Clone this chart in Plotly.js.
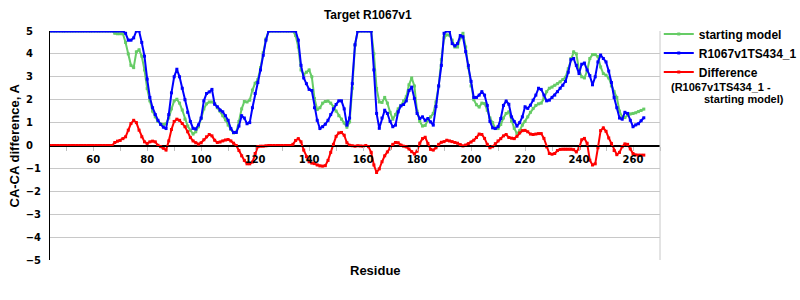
<!DOCTYPE html>
<html><head><meta charset="utf-8">
<script src="https://cdn.plot.ly/plotly-3.0.1.min.js"></script>
<style>html,body{margin:0;padding:0;background:#fff}#chart{width:800px;height:300px}</style>
</head><body><div id="chart"></div>
<script>
// residue numbering of the first value in each series
const firstResidue = 44;

// series: starting model (green)
const startingModel = [
  5,5,5,5,5,5,
  5,5,5,5,5,5,5,5,5,5,
  5,5,5,5,5,5,5,5,4.9,4.88,
  4.88,4.88,4.5,4.0,3.5,3.4,4.09,4.18,3.9,3.3,
  2.49,1.95,1.5,1.25,1.05,0.94,0.92,0.95,1.2,1.6,
  1.95,2.02,1.85,1.55,1.15,0.85,0.67,0.5,0.6,0.82,
  1.18,1.6,1.82,1.9,1.9,1.83,1.65,1.5,1.3,1.12,
  0.89,0.7,0.55,0.58,1.05,1.6,1.92,1.9,1.98,2.42,
  2.72,2.88,3.4,4.05,4.65,5,5,5,5,5,
  5,5,5,5,5,4.8,4.3,3.3,3.1,3.2,
  3.3,3.0,2.05,1.57,1.65,1.85,1.92,1.94,1.85,1.7,
  1.5,1.3,1.15,0.98,0.8,1.03,2.5,4.38,5,5,
  5,5,5,5,4.0,2.49,1.9,1.88,2.1,1.85,
  1.45,1.15,1.35,1.6,1.75,1.95,2.13,2.65,2.95,2.6,
  1.5,1.05,0.85,0.88,1.1,1.25,1.4,1.9,2.6,3.75,
  4.7,4.83,4.82,4.6,4.3,4.3,4.7,4.9,4.3,3.4,
  2.6,2.0,1.78,1.68,1.85,1.83,1.54,1.2,1.0,0.75,
  0.74,0.92,1.2,1.4,1.47,1.05,0.75,0.52,0.65,0.89,
  1.05,1.25,1.45,1.62,1.75,1.82,1.85,2.05,2.35,2.5,
  2.55,2.63,2.7,2.78,2.88,2.98,3.35,3.8,4.09,4.0,
  3.3,3.0,2.95,3.25,3.8,3.97,3.97,3.88,3.43,3.14,
  3.07,2.95,2.6,2.35,2.1,1.5,1.25,1.22,1.33,1.38,
  1.4,1.43,1.48,1.53,1.59
];

// series: R1067v1TS434_1 (blue)
const modelValues = [
  5,5,5,5,5,5,
  5,5,5,5,5,5,5,5,5,5,
  5,5,5,5,5,5,5,5,5,5,
  5,5,4.9,4.6,4.6,4.7,5,5,4.5,3.9,
  2.9,2.1,1.65,1.35,1.1,0.92,0.8,0.74,1.35,2.3,
  3.0,3.33,3.0,2.5,2.0,1.45,1.05,0.75,0.72,0.9,
  1.2,1.95,2.27,2.34,2.45,1.8,1.69,1.54,1.47,1.3,
  1.1,0.74,0.57,0.57,0.85,1.3,1.2,0.95,1.0,1.65,
  2.27,2.75,3.3,3.94,4.6,5,5,5,5,5,
  5,5,5,5,5,5,4.6,3.5,2.95,2.7,
  2.45,2.4,1.65,1.1,0.74,0.82,0.93,1.1,1.35,1.6,
  1.79,1.95,1.95,1.6,0.89,1.2,2.7,4.4,5,5,
  5,5,5,5,3.3,1.4,0.75,1.2,1.54,1.4,
  1.05,0.82,0.89,1.47,1.73,1.79,1.95,2.4,2.55,2.05,
  1.4,1.18,1.25,1.1,1.18,1.03,0.89,1.7,2.6,3.5,
  4.9,5,5,4.45,4.35,4.45,4.8,4.75,4.1,3.5,
  2.8,2.1,2.1,2.2,2.35,2.2,1.75,1.05,0.77,0.74,
  0.82,1.18,1.75,1.94,1.8,1.25,1.05,0.85,1.0,1.25,
  1.69,1.62,1.76,1.98,2.2,2.5,2.45,2.2,1.95,1.98,
  2.1,2.2,2.35,2.5,2.63,2.8,3.2,3.75,3.8,3.5,
  3.14,3.55,3.6,3.3,3.05,2.65,3.0,3.65,3.95,3.8,
  3.65,3.25,2.75,2.1,1.65,1.2,1.15,1.45,1.4,1.1,
  0.82,0.9,0.95,1.08,1.21
];

// series: Difference (red)
const differenceValues = [
  0,0,0,0,0,0,
  0,0,0,0,0,0,0,0,0,0,
  0,0,0,0,0,0,0,0,0.13,0.19,
  0.22,0.3,0.38,0.67,0.96,1.1,1.0,0.67,0.38,0.16,
  0.09,0.16,0.19,0.16,0.01,-0.05,-0.12,-0.2,0.2,0.7,
  1.05,1.15,1.1,0.96,0.82,0.6,0.35,0.2,0.12,0.06,
  0.12,0.25,0.38,0.48,0.42,0.23,0.13,0.15,0.2,0.24,
  0.26,0.2,0.1,0.0,-0.22,-0.45,-0.65,-0.8,-0.8,-0.72,
  -0.35,-0.05,-0.03,-0.03,-0.01,0,0,0,0,0,
  0,0,0,0,0.05,0.22,0.3,0.16,-0.2,-0.49,
  -0.71,-0.77,-0.79,-0.85,-0.89,-0.9,-0.88,-0.65,-0.3,0.05,
  0.4,0.55,0.57,0.45,0.12,0.01,-0.01,-0.03,-0.01,-0.02,
  -0.03,0.0,-0.05,-0.3,-0.85,-1.18,-1.02,-0.71,-0.45,-0.28,
  -0.12,0.05,0.13,0.12,0.02,-0.03,-0.06,-0.15,-0.27,-0.37,
  -0.25,0.1,0.3,0.36,0.09,-0.17,-0.2,-0.1,0.05,0.14,
  0.17,0.23,0.2,0.17,0.13,0.1,0.04,-0.02,0.02,0.08,
  0.15,0.23,0.35,0.5,0.48,0.31,0.05,-0.1,-0.05,0.08,
  0.2,0.3,0.42,0.48,0.35,0.32,0.3,0.4,0.55,0.65,
  0.66,0.6,0.5,0.48,0.5,0.52,0.52,0.31,-0.06,-0.35,
  -0.38,-0.35,-0.22,-0.17,-0.16,-0.16,-0.16,-0.16,-0.18,-0.28,
  -0.13,0.25,0.31,0.1,-0.64,-0.85,-0.8,-0.1,0.65,0.77,
  0.62,0.33,0.09,-0.22,-0.4,-0.3,-0.05,0.07,0.05,-0.15,
  -0.35,-0.41,-0.42,-0.42,-0.42
];

const seriesNames = ['starting model', 'R1067v1TS434_1', 'Difference'];
const seriesColors = ['#66cc66', '#0000ff', '#ff0000'];
const yTickVals = [5,4,3,2,1,0,-1,-2,-3,-4,-5];
const yTickText = ['5','4','3','2','1','0','\u22121','\u22122','\u22123','\u22124','\u22125'];
const xTickVals = [60,80,100,120,140,160,180,200,220,240,260];
const xTickText = ['60','80','100','120','140','160','180','200','220','240','260'];

const residues = startingModel.map((_, i) => firstResidue + i);
const allSeries = [startingModel, modelValues, differenceValues];

const traces = allSeries.map((vals, k) => ({
  x: residues, y: vals, type: 'scatter', mode: 'lines+markers',
  name: seriesNames[k], legendgroup: 'g' + k,
  line: {color: seriesColors[k], width: 2},
  marker: {color: seriesColors[k], size: 3, symbol: 'square'}
}));

// positive labels padded so that all labels line up on the left, as in the reference
const pad = '\u2007\u200A';
const yTickLabels = yTickText.map(t => '<b>' + t + (t.charAt(0) === '\u2212' ? '' : pad) + '</b>');
const xTickLabels = xTickText.map(t => '<b>' + t + '</b>');

const boldArial = {family: 'Liberation Sans, Arial, sans-serif', weight: 'bold', color: '#000'};
const tickFont = {family: 'DejaVu Sans, Verdana, sans-serif', color: '#000', size: 10};

const layout = {
  width: 800, height: 300,
  margin: {l: 50, r: 140, t: 31, b: 40, autoexpand: false},
  paper_bgcolor: '#fff', plot_bgcolor: '#fff',
  title: {text: '<b>Target R1067v1</b>', font: Object.assign({size: 12}, boldArial),
          x: 0.521, xref: 'paper', xanchor: 'center', y: 0.95, yref: 'container', yanchor: 'middle'},
  showlegend: true,
  legend: {x: 0.998, xanchor: 'left', y: 1.05, yanchor: 'top', traceorder: 'grouped',
           tracegroupgap: 0, font: Object.assign({size: 12}, boldArial), bgcolor: 'rgba(0,0,0,0)'},
  xaxis: {
    range: [44, 270], anchor: 'free', position: 0.5,
    showgrid: false, zeroline: false, showline: true, linecolor: '#000', linewidth: 1,
    tickmode: 'array', tickvals: xTickVals, ticktext: xTickLabels,
    ticks: 'outside', ticklen: 4, tickcolor: '#c0c0c0', tickwidth: 1,
    minor: {dtick: 10, tick0: 0, ticks: 'outside', ticklen: 4, tickcolor: '#c0c0c0', showgrid: false},
    tickfont: tickFont
  },
  yaxis: {
    range: [-5, 5], tickmode: 'array', tickvals: yTickVals, ticktext: yTickLabels,
    showgrid: true, gridcolor: '#c8c8c8', gridwidth: 1,
    zeroline: true, zerolinecolor: '#000', zerolinewidth: 1,
    showline: true, linecolor: '#000', linewidth: 1,
    ticks: '', ticklabelstandoff: 6,
    tickfont: tickFont
  },
  shapes: [
    {type: 'line', xref: 'paper', yref: 'paper', x0: 1, x1: 1, y0: 0, y1: 1,
     line: {color: '#c8c8c8', width: 1}}
  ],
  annotations: [
    {text: '<b>Residue</b>', xref: 'paper', yref: 'paper', x: 0.534, y: -0.0437,
     xanchor: 'center', yanchor: 'middle', showarrow: false, font: Object.assign({size: 13}, boldArial)},
    {text: '<b>CA-CA difference, A</b>', xref: 'paper', yref: 'paper', x: -0.0574, y: 0.5,
     xanchor: 'center', yanchor: 'middle', textangle: -90, showarrow: false,
     font: Object.assign({size: 13}, boldArial)},
    {text: '<b>(R1067v1TS434_1 -</b>', xref: 'paper', yref: 'paper', x: 1.0148, y: 0.755,
     xanchor: 'left', yanchor: 'middle', showarrow: false, font: Object.assign({size: 11}, boldArial)},
    {text: '<b>starting model)</b>', xref: 'paper', yref: 'paper', x: 1.0689, y: 0.702,
     xanchor: 'left', yanchor: 'middle', showarrow: false, font: Object.assign({size: 11}, boldArial)}
  ]
};

Plotly.newPlot('chart', traces, layout, {staticPlot: true, displayModeBar: false});
</script>
</body></html>
